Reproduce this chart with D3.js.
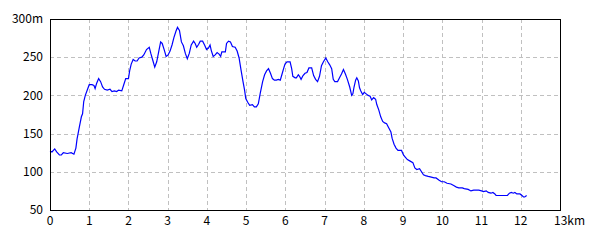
<!DOCTYPE html>
<html>
<head>
<meta charset="utf-8">
<script src="https://cdn.jsdelivr.net/npm/d3@7"></script>
<style>
  body { margin: 0; background: #fff; }
  text { font-family: "Noto Sans CJK JP", "DejaVu Sans", sans-serif; font-size: 12px; fill: #000; }
</style>
</head>
<body>
<svg id="chart" width="600" height="240"></svg>
<script>
// distance along the route (km)
var distKm = [
  0, 0.05, 0.12, 0.17, 0.24, 0.29, 0.34, 0.44, 0.54, 0.61, 0.66, 0.69, 0.75, 0.8, 0.83, 0.86, 0.9, 0.95,
  1.0, 1.07, 1.12, 1.15, 1.19, 1.24, 1.29, 1.34, 1.39, 1.46, 1.53, 1.58, 1.64, 1.7, 1.75, 1.83, 1.88, 1.93,
  2.0, 2.03, 2.07, 2.12, 2.17, 2.22, 2.27, 2.34, 2.39, 2.46, 2.53, 2.57, 2.62, 2.67, 2.72, 2.77, 2.82, 2.86,
  2.91, 2.96, 3.01, 3.06, 3.11, 3.16, 3.21, 3.25, 3.3, 3.35, 3.4, 3.45, 3.5, 3.55, 3.6, 3.66, 3.7, 3.74,
  3.79, 3.83, 3.89, 3.94, 3.99, 4.04, 4.08, 4.11, 4.16, 4.21, 4.26, 4.31, 4.35, 4.38, 4.47, 4.5, 4.55, 4.6,
  4.65, 4.72, 4.77, 4.82, 4.87, 4.92, 4.96, 4.99, 5.04, 5.09, 5.16, 5.21, 5.26, 5.31, 5.36, 5.42, 5.47, 5.52,
  5.57, 5.62, 5.67, 5.72, 5.77, 5.82, 5.87, 5.91, 5.96, 5.99, 6.04, 6.12, 6.16, 6.19, 6.25, 6.28, 6.33, 6.36,
  6.4, 6.45, 6.5, 6.55, 6.6, 6.67, 6.72, 6.77, 6.82, 6.87, 6.92, 6.97, 7.03, 7.08, 7.13, 7.18, 7.22, 7.26,
  7.33, 7.38, 7.43, 7.48, 7.53, 7.58, 7.64, 7.69, 7.72, 7.75, 7.79, 7.82, 7.86, 7.89, 7.92, 7.97, 8.01, 8.06,
  8.11, 8.16, 8.2, 8.25, 8.3, 8.33, 8.38, 8.43, 8.48, 8.53, 8.58, 8.64, 8.69, 8.72, 8.77, 8.82, 8.87, 8.96,
  9.01, 9.06, 9.11, 9.18, 9.25, 9.3, 9.35, 9.42, 9.47, 9.52, 9.57, 9.64, 9.72, 9.79, 9.84, 9.92, 9.98, 10.05,
  10.12, 10.22, 10.29, 10.36, 10.42, 10.51, 10.56, 10.66, 10.73, 10.8, 10.93, 11.0, 11.05, 11.12, 11.17, 11.24,
  11.29, 11.34, 11.37, 11.54, 11.66, 11.71, 11.76, 11.81, 11.85, 11.9, 11.98, 12.03, 12.07, 12.1, 12.15
];

// elevation (m)
var elevM = [
  127, 126, 130, 126, 122, 122, 125, 124, 125, 123, 131, 143, 159, 172, 176, 192, 200, 207,
  214, 214, 213, 209, 216, 222, 218, 211, 208, 207, 208, 205, 206, 205, 207, 206, 214, 222,
  222, 232, 241, 247, 245, 245, 249, 250, 253, 260, 263, 255, 246, 237, 244, 257, 270, 268,
  260, 251, 253, 258, 266, 276, 284, 289, 285, 270, 265, 255, 248, 255, 266, 271, 268, 263,
  267, 271, 271, 266, 260, 262, 266, 259, 251, 253, 256, 254, 251, 257, 257, 268, 271, 270,
  264, 263, 258, 249, 233, 218, 207, 196, 191, 187, 188, 185, 185, 189, 203, 218, 227, 232,
  235, 229, 222, 220, 220, 221, 220, 227, 236, 241, 244, 244, 235, 225, 223, 223, 227, 225,
  221, 226, 229, 230, 236, 236, 226, 221, 218, 225, 239, 244, 249, 244, 240, 235, 221, 218,
  218, 223, 228, 234, 228, 221, 211, 200, 202, 211, 220, 223, 219, 210, 206, 201, 204, 202,
  200, 199, 194, 197, 195, 188, 181, 172, 166, 164, 163, 157, 152, 144, 136, 131, 128, 128,
  122, 119, 116, 114, 112, 105, 103, 104, 100, 96, 95, 94, 93, 92, 92, 89, 87, 87,
  85, 84, 82, 80, 79, 79, 78, 77, 75, 76, 76, 75, 74, 75, 73, 72,
  73, 71, 69, 69, 69, 72, 73, 72, 73, 71, 71, 69, 67, 67, 69
];

var xTicks = d3.range(0, 14);
var yTicks = [50, 100, 150, 200, 250, 300];

var svg = d3.select("#chart");
var plotLeft = 50, plotRight = 560, plotTop = 19, plotBottom = 210;

var x = d3.scaleLinear().domain([0, 13]).range([plotLeft, plotRight]);
var y = d3.scaleLinear().domain([50, 300]).range([plotBottom, plotTop]);

var data = distKm.map(function(d, i) { return { km: d, m: elevM[i] }; });

// grid
svg.append("g")
  .selectAll("line")
  .data(xTicks.slice(1, -1))
  .join("line")
  .attr("x1", function(d) { return Math.round(x(d)) + 0.5; })
  .attr("x2", function(d) { return Math.round(x(d)) + 0.5; })
  .attr("y1", plotTop)
  .attr("y2", plotBottom)
  .attr("stroke", "#c0c0c0")
  .attr("stroke-dasharray", "4,3");

svg.append("g")
  .selectAll("line")
  .data(yTicks.slice(1, -1))
  .join("line")
  .attr("x1", plotLeft)
  .attr("x2", plotRight)
  .attr("y1", function(d) { return Math.round(y(d)) + 0.5; })
  .attr("y2", function(d) { return Math.round(y(d)) + 0.5; })
  .attr("stroke", "#c0c0c0")
  .attr("stroke-dasharray", "4,3");

// elevation line
var line = d3.line()
  .x(function(d) { return x(d.km); })
  .y(function(d) { return y(d.m); });

svg.append("path")
  .datum(data)
  .attr("d", line)
  .attr("fill", "none")
  .attr("stroke", "#0000ff")
  .attr("stroke-width", 1.2);

// frame
svg.append("rect")
  .attr("x", plotLeft + 0.5)
  .attr("y", plotTop + 0.5)
  .attr("width", plotRight - plotLeft)
  .attr("height", plotBottom - plotTop)
  .attr("fill", "none")
  .attr("stroke", "#000")
  .attr("stroke-width", 1);

// axis labels
svg.append("g")
  .selectAll("text")
  .data(yTicks)
  .join("text")
  .attr("x", 43)
  .attr("y", function(d) { return y(d); })
  .attr("dy", "0.35em")
  .attr("text-anchor", "end")
  .text(function(d) { return d === 300 ? d + "m" : d; });

svg.append("g")
  .selectAll("text")
  .data(xTicks)
  .join("text")
  .attr("x", function(d) { return d === 13 ? x(d) - 6 : x(d); })
  .attr("y", 221)
  .attr("dy", "0.35em")
  .attr("text-anchor", function(d) { return d === 13 ? "start" : "middle"; })
  .text(function(d) { return d === 13 ? d + "km" : d; });
</script>
</body>
</html>
